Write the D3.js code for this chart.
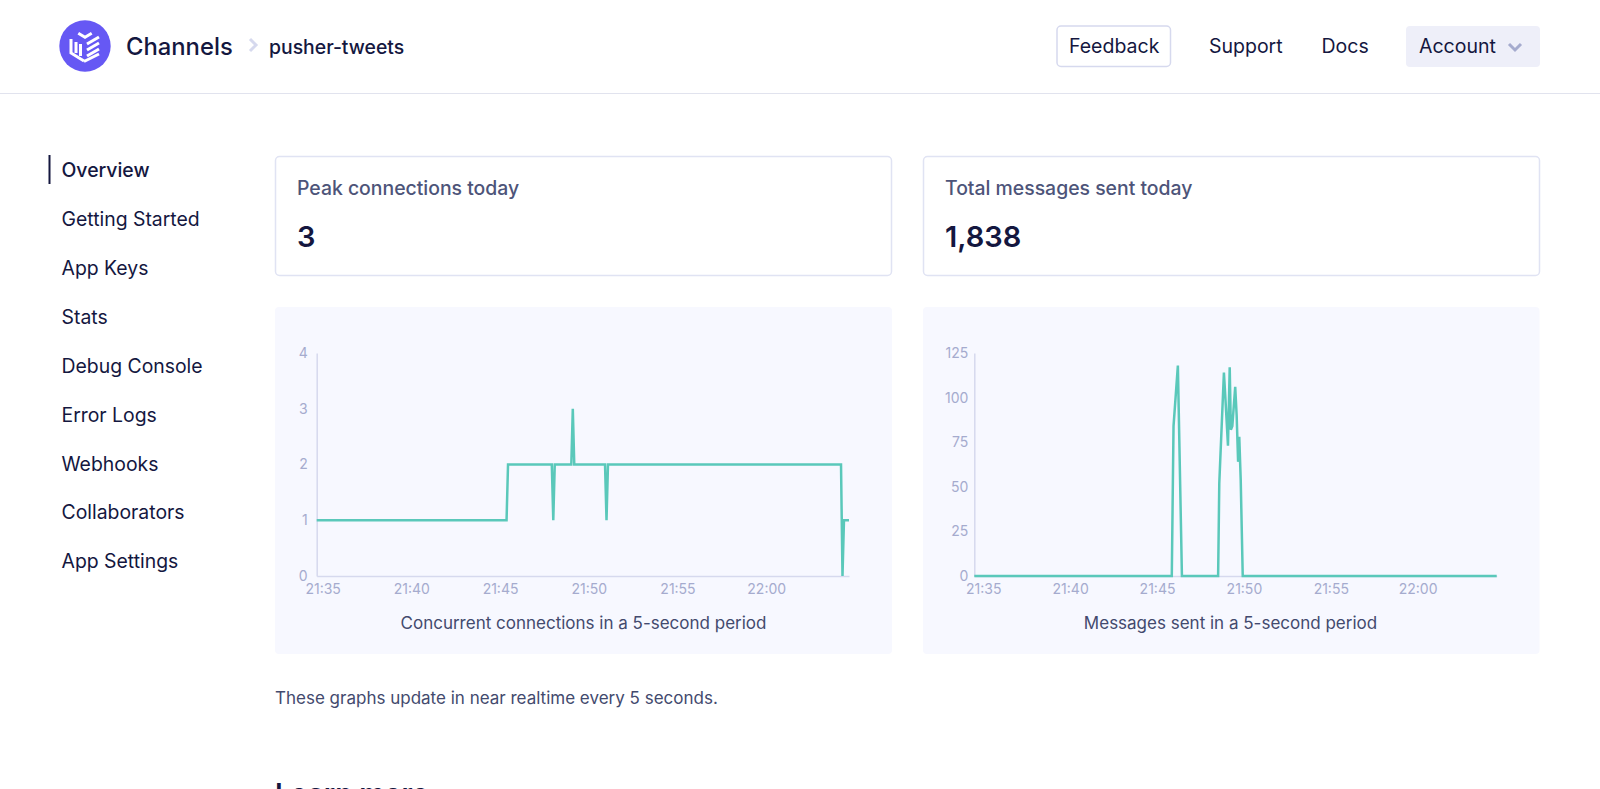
<!DOCTYPE html>
<html><head><meta charset="utf-8">
<script src="https://cdn.jsdelivr.net/npm/d3@7"></script>
<style>
html,body{margin:0;padding:0;background:#fff;overflow:hidden}
svg{display:block}
text{font-family:Inter,"Noto Sans",sans-serif}
</style></head><body>
<svg id="s" width="1600" height="789"></svg>
<script>
const navItems=["Overview","Getting Started","App Keys","Stats","Debug Console","Error Logs","Webhooks","Collaborators","App Settings"];
const xTickLabels=["21:35","21:40","21:45","21:50","21:55","22:00"];
const connTicks=[0,1,2,3,4];
const msgTicks=[0,25,50,75,100,125];
const connTimes=["21:34:40","21:45:22","21:45:27","21:47:55","21:48:00","21:48:05","21:49:01","21:49:06","21:49:11","21:50:55","21:51:00","21:51:05","22:04:13","22:04:18","22:04:23","22:04:40"];
const connValues=[1,1,2,2,1,2,2,3,2,2,1,2,2,0,1,1];
const msgTimes=["21:34:29","21:45:51","21:45:57","21:46:12","21:46:26","21:48:31","21:48:35","21:48:51","21:48:56","21:49:05","21:49:11","21:49:15","21:49:20","21:49:30","21:49:35","21:49:40","21:49:44","21:49:49","21:49:56","22:04:33"];
const msgValues=[0,0,84,118,0,0,52,114,100,73,117,82,84,106,90,64,78,54,0,0];

const parse=d3.timeParse("%H:%M:%S"), fmt=d3.timeFormat("%H:%M");
const svg=d3.select("#s");
const INK="#14173f",SOFT="#4d5479",CAP="#434a6e",TICK="#a5abce",AXIS="#d6d9ee",LINE="#5ac8ba",PANEL="#f7f8ff",BORDER="#e0e3f3";

function txt(g,x,y,s,size,weight,fill,anchor){
  return g.append("text").attr("x",x).attr("y",y).attr("font-size",size).attr("font-weight",weight).attr("fill",fill).attr("text-anchor",anchor||"start").text(s);
}
/* header */
svg.append("line").attr("x1",0).attr("x2",1600).attr("y1",93.5).attr("y2",93.5).attr("stroke","#e1e3ee");
const logo=svg.append("g").attr("transform","translate(85,46)");
logo.append("circle").attr("r",25.7).attr("fill","#6658f4");
[[[-6.7,-12.7],[0,-8.7],[6.7,-12.7]],[[-14,-7],[-14,7],[-1,15]],[[-9,-4],[-9,7]],[[-4.5,-2],[-4.5,10]],[[2,-2],[14,-9]],[[2,4],[14,-3]],[[2,10],[14,3]],[[-1,15.5],[14,8]]]
 .forEach(p=>logo.append("path").attr("d",d3.line()(p)).attr("fill","none").attr("stroke","#fff").attr("stroke-width",3));
txt(svg,126,55,"Channels",23.8,500,INK);
svg.append("path").attr("d","M250,39L256,45L250,51").attr("fill","none").attr("stroke","#d6d9ee").attr("stroke-width",3);
txt(svg,269,53.5,"pusher-tweets",19.4,500,INK);
svg.append("rect").attr("x",1057).attr("y",26).attr("width",113.5).attr("height",40.5).attr("rx",4).attr("fill","#fff").attr("stroke","#d6d9ee").attr("stroke-width",1.5);
txt(svg,1069,52.5,"Feedback",19.5,400,INK);
txt(svg,1209,52.5,"Support",19.5,400,INK);
txt(svg,1321.5,52.5,"Docs",19.5,400,INK);
svg.append("rect").attr("x",1406).attr("y",26).attr("width",134).attr("height",41).attr("rx",4).attr("fill","#eeeff9");
txt(svg,1419,52.5,"Account",19.5,400,INK);
svg.append("path").attr("d","M1509,44L1515,50L1521,44").attr("fill","none").attr("stroke","#a5abce").attr("stroke-width",3);

/* sidebar */
svg.append("rect").attr("x",48.5).attr("y",155).attr("width",2).attr("height",29).attr("fill",INK);
navItems.forEach((n,i)=>txt(svg,61.5,177.4+i*48.85,n,19.4,i===0?500:400,INK));

/* cards */
function card(x,w,label,val){
  svg.append("rect").attr("x",x+.5).attr("y",156.5).attr("width",w).attr("height",119).attr("rx",4).attr("fill","#fff").attr("stroke",BORDER).attr("stroke-width",1.5);
  txt(svg,x+22,195,label,19.4,500,SOFT);
  txt(svg,x+22,247,val,29,600,INK);
}
card(275,616,"Peak connections today","3");
card(923,616,"Total messages sent today","1,838");

/* charts */
function chart(o){
  svg.append("rect").attr("x",o.px).attr("y",307).attr("width",o.pw).attr("height",347).attr("rx",4).attr("fill",PANEL);
  const x=d3.scaleTime().domain(o.domain.map(parse)).range(o.xr);
  const y=d3.scaleLinear().domain(o.yd).range([576,353]);
  const line=d3.line().x(d=>x(d.t)).y(d=>y(d.v));
  const ax=svg.append("g").attr("transform","translate(0,576)")
    .call(d3.axisBottom(x).tickValues(xTickLabels.map(s=>parse(s+":00"))).tickFormat(fmt).tickSize(0).tickPadding(8.5));
  const ay=svg.append("g").attr("transform",`translate(${o.xr[0]},0)`)
    .call(d3.axisLeft(y).tickValues(o.yt).tickFormat(d3.format("d")).tickSize(0).tickPadding(o.pad));
  [ax,ay].forEach(a=>{
    a.select(".domain").attr("stroke",AXIS).attr("stroke-width",1.5);
    a.selectAll("text").attr("fill",TICK).attr("font-size",14).attr("font-family","Inter,sans-serif");
  });
  const data=o.times.map((t,i)=>({t:parse(t),v:o.vals[i]}));
  svg.append("path").datum(data).attr("d",line).attr("fill","none").attr("stroke",LINE).attr("stroke-width",2.5).attr("stroke-linejoin","miter").attr("stroke-miterlimit",3);
  txt(svg,o.capx,628.5,o.cap,17,400,CAP,"middle");
}
chart({px:275,pw:617,domain:["21:34:40","22:04:40"],xr:[316.7,849],yd:[0,4],yt:connTicks,pad:9,times:connTimes,vals:connValues,capx:583.5,cap:"Concurrent connections in a 5-second period"});
chart({px:923,pw:616.5,domain:["21:34:29","22:04:33"],xr:[974.3,1496.7],yd:[0,125],yt:msgTicks,pad:6,times:msgTimes,vals:msgValues,capx:1230.5,cap:"Messages sent in a 5-second period"});

txt(svg,275,704,"These graphs update in near realtime every 5 seconds.",17,400,CAP);
txt(svg,275,804,"Learn more",28,600,INK);
</script>
</body></html>
